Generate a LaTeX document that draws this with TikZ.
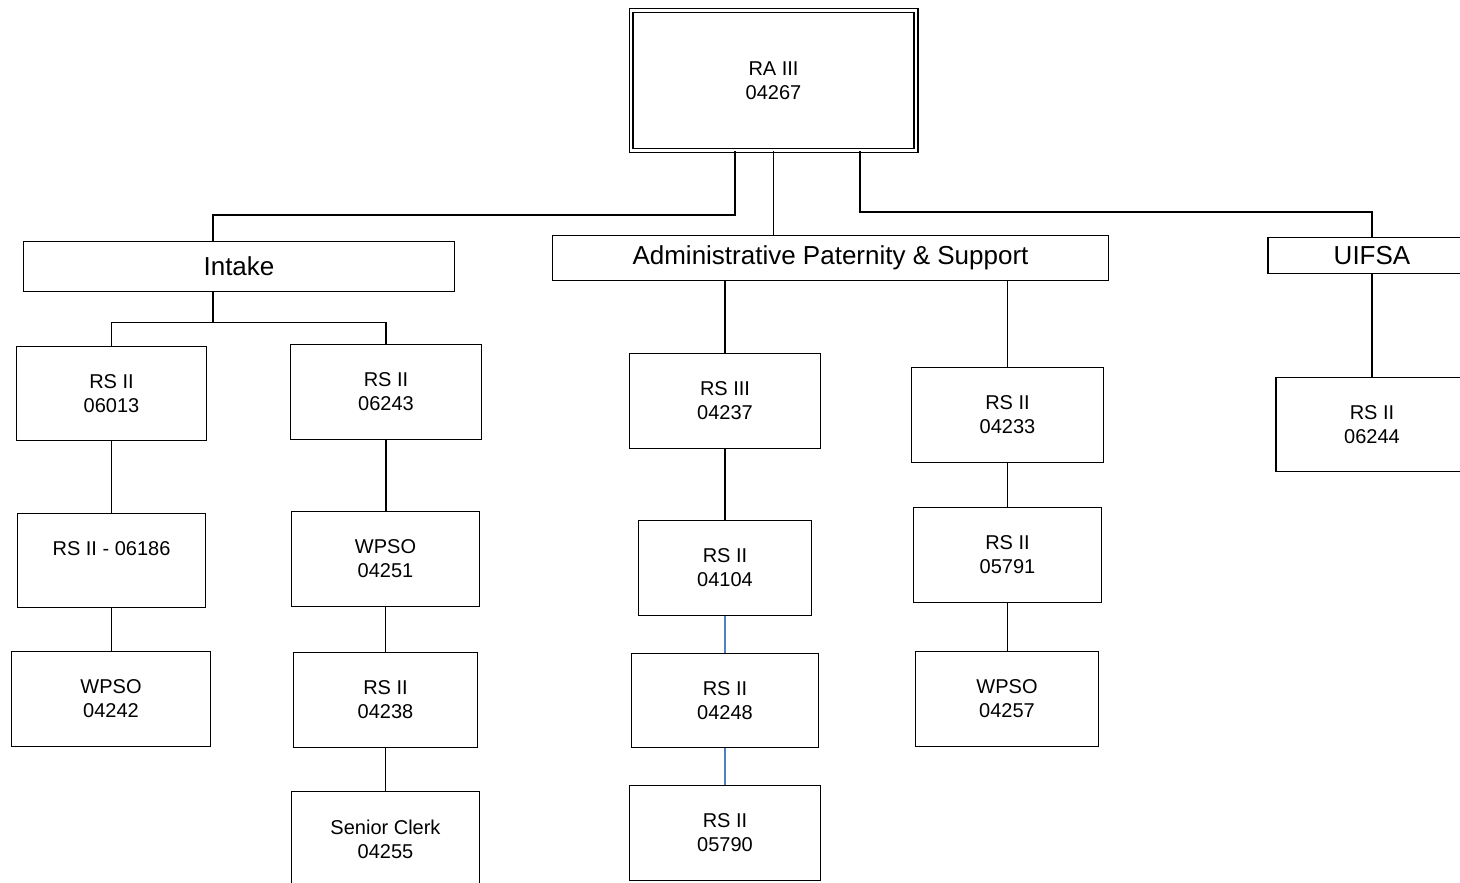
\documentclass[tikz,border=0pt]{standalone}
\usepackage{fontspec}
\setmainfont{Liberation Sans}
\begin{document}
\begin{tikzpicture}[x=1pt,y=-1pt,
  box/.style={draw, line width=1.6pt, inner sep=0pt, align=center, fill=white,
              font=\fontsize{20}{24}\selectfont},
  head/.style={box, font=\fontsize{26}{30}\selectfont},
  link/.style={line width=1.6pt},
  bluelink/.style={line width=1.3pt, draw=linkblue}]
\definecolor{linkblue}{HTML}{4F81BD}
\useasboundingbox (0,0) rectangle (1460,883);
\clip (0,0) rectangle (1460,883);

% top position
\node[box, double, line width=1.3pt, double distance=2.6pt,
      minimum width=284.8pt, minimum height=139.8pt] (ra) at (773.5,80.5) {RA III\\04267};

% units
\node[head, minimum width=431pt, minimum height=50pt] (intake) at (239,266.5) {Intake};
\node[head, minimum width=556pt, minimum height=45pt] (aps) at (830.5,258) {Administrative Paternity \& Support};
\node[head, minimum width=208pt, minimum height=36pt] (uifsa) at (1372,255.5) {UIFSA};

% Intake
\node[box, minimum width=190pt, minimum height=94pt] (rsA) at (111.5,393.5) {RS II\\06013};
\node[box, minimum width=188pt, minimum height=94pt] (rsB) at (111.5,560.5) {RS II - 06186\\\mbox{}};
\node[box, minimum width=199pt, minimum height=95pt] (wpA) at (111,699) {WPSO\\04242};
\node[box, minimum width=191pt, minimum height=95pt] (rsC) at (386,392) {RS II\\06243};
\node[box, minimum width=188pt, minimum height=95pt] (wpB) at (385.5,559) {WPSO\\04251};
\node[box, minimum width=184pt, minimum height=95pt] (rsD) at (385.5,700) {RS II\\04238};
\node[box, minimum width=188pt, minimum height=95pt] (clerk) at (385.5,839) {Senior Clerk\\04255};

% Administrative Paternity & Support
\node[box, minimum width=191pt, minimum height=95pt] (rsE) at (725,401) {RS III\\04237};
\node[box, minimum width=173pt, minimum height=95pt] (rsF) at (725,568) {RS II\\04104};
\node[box, minimum width=187pt, minimum height=94pt] (rsG) at (725,700.5) {RS II\\04248};
\node[box, minimum width=191pt, minimum height=95pt] (rsH) at (725,833) {RS II\\05790};
\node[box, minimum width=192pt, minimum height=95pt] (rsI) at (1007.5,415) {RS II\\04233};
\node[box, minimum width=188pt, minimum height=95pt] (rsJ) at (1007.5,555) {RS II\\05791};
\node[box, minimum width=183pt, minimum height=95pt] (wpC) at (1007,699) {WPSO\\04257};

% UIFSA
\node[box, minimum width=192pt, minimum height=94pt] (rsK) at (1372,424.5) {RS II\\06244};

% top-level connectors
\draw[link] ([xshift=-38.5pt]ra.south) |- ([xshift=-26pt,yshift=26pt]intake.north) -- ([xshift=-26pt]intake.north);
\draw[link] (ra.south) -- (ra.south |- aps.north);
\draw[link] ([xshift=86.5pt]ra.south) |- ([yshift=25pt]uifsa.north) -- (uifsa.north);

% Intake connectors
\draw[link] ([xshift=-26pt]intake.south) -- ([xshift=-26pt,yshift=-30pt]intake.south);
\draw[link] (rsA.north) |- ([yshift=-30pt]intake.south) -| (rsC.north);
\draw[link] (rsA.south) -- (rsA.south |- rsB.north);
\draw[link] (rsB.south) -- (rsB.south |- wpA.north);
\draw[link] (rsC.south) -- (rsC.south |- wpB.north);
\draw[link] (wpB.south) -- (wpB.south |- rsD.north);
\draw[link] (rsD.south) -- (rsD.south |- clerk.north);

% Administrative Paternity & Support connectors
\draw[link] (rsE.north |- aps.south) -- (rsE.north);
\draw[link] (rsI.north |- aps.south) -- (rsI.north);
\draw[link] (rsE.south) -- (rsF.north);
\draw[bluelink] (rsF.south) -- (rsG.north);
\draw[bluelink] (rsG.south) -- (rsH.north);
\draw[link] (rsI.south) -- (rsI.south |- rsJ.north);
\draw[link] (rsJ.south) -- (rsJ.south |- wpC.north);

% UIFSA connector
\draw[link] (uifsa.south) -- (rsK.north);
\end{tikzpicture}
\end{document}
